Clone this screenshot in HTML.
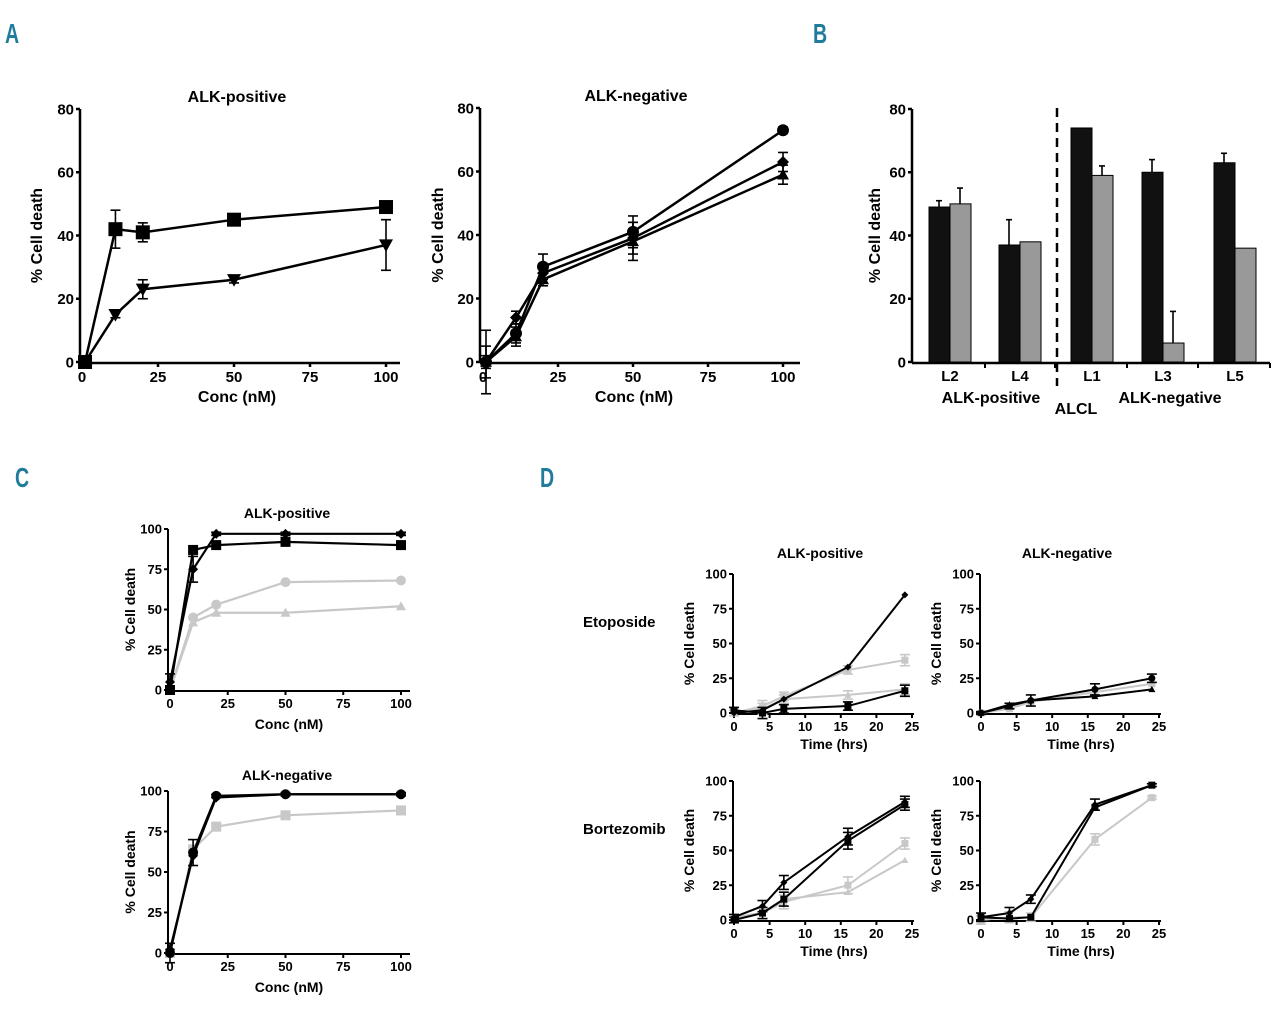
<!DOCTYPE html>
<html><head><meta charset="utf-8">
<style>
html,body{margin:0;padding:0;background:#fff;}
svg{display:block;font-family:"Liberation Sans",sans-serif;font-weight:bold;}
</style></head>
<body>
<svg id="fig" width="1280" height="1012" viewBox="0 0 1280 1012" xmlns="http://www.w3.org/2000/svg">
<g fill="#1f7c9c" font-size="28">
<text transform="translate(5,43) scale(0.7,1)">A</text>
<text transform="translate(813,43) scale(0.7,1)">B</text>
<text transform="translate(15,487) scale(0.7,1)">C</text>
<text transform="translate(540,487) scale(0.7,1)">D</text>
</g>
<g font-size="15">
<text x="583" y="627">Etoposide</text>
<text x="583" y="834">Bortezomib</text>
</g>
</svg>
<script>
// ---------- DATA ----------
const concX = [1, 11, 20, 50, 100];
const a1Square = [0, 42, 41, 45, 49];
const a1SquareErr = [0, 6, 3, 1, 1];
const a1Tri = [0, 15, 23, 26, 37];
const a1TriErr = [0, 1, 3, 1, 8];
const a2Circle = [0, 9, 30, 41, 73];
const a2CircleErr = [10, 3, 4, 5, 1];
const a2Diamond = [0, 14, 28, 39, 63];
const a2DiamondErr = [5, 2, 3, 5, 3];
const a2Tri = [0, 8, 26, 38, 59];
const a2TriErr = [2, 3, 2, 6, 3];
const concTicks = [0, 25, 50, 75, 100];
const pctTicks80 = [0, 20, 40, 60, 80];
const pctTicks100 = [0, 25, 50, 75, 100];

const bCategories = ['L2', 'L4', 'L1', 'L3', 'L5'];
const bBlack = [49, 37, 74, 60, 63];
const bBlackErr = [2, 8, 0, 4, 3];
const bGray = [50, 38, 59, 6, 36];
const bGrayErr = [5, 0, 3, 10, 0];

const cX = [0, 10, 20, 50, 100];
const c1Diamond = [5, 75, 97, 97, 97];
const c1Square = [0, 87, 90, 92, 90];
const c1GrayCircle = [0, 45, 53, 67, 68];
const c1GrayTri = [0, 42, 48, 48, 52];
const c1Err = [5, 8, 1, 1, 1];
const c2Black1 = [0, 62, 97, 98, 98];
const c2Black2 = [2, 60, 96, 98, 98];
const c2Gray = [0, 64, 78, 85, 88];
const c2Err = [6, 8, 1, 1, 1];

const tX = [0, 4, 7, 16, 24];
const timeTicks = [0, 5, 10, 15, 20, 25];
const d1Black1 = [0, 2, 10, 33, 85];
const d1Gray1 = [0, 5, 12, 31, 38];
const d1Gray2 = [0, 3, 10, 13, 17];
const d1Black2 = [2, 0, 3, 5, 16];
const d1Err = [2, 4, 3, 3, 4];
const d2Black1 = [0, 5, 9, 17, 25];
const d2Black2 = [0, 6, 9, 12, 17];
const d2Gray = [0, 3, 8, 15, 21];
const d2Err = [1, 2, 4, 4, 3];
const d3Black1 = [2, 10, 27, 60, 85];
const d3Black2 = [0, 5, 15, 57, 83];
const d3Gray1 = [2, 5, 13, 25, 55];
const d3Gray2 = [2, 5, 15, 20, 43];
const d3Err = [2, 4, 5, 6, 4];
const d4Black1 = [2, 5, 15, 83, 97];
const d4Black2 = [2, 1, 2, 81, 97];
const d4Gray = [0, 2, 2, 58, 88];
const d4Err = [3, 4, 3, 4, 1];

// ---------- DRAWING ----------
const NS = 'http://www.w3.org/2000/svg';
const svg = document.getElementById('fig');
function mk(tag, attrs, parent) {
  const e = document.createElementNS(NS, tag);
  for (const k in attrs) e.setAttribute(k, attrs[k]);
  (parent || svg).appendChild(e);
  return e;
}
function axes(g, c) {
  const ax = mk('g', {}, g);
  
  
  mk('line', {x1: c.axX, y1: c.ya(c.yTicks[c.yTicks.length - 1]), x2: c.axX, y2: c.y0 + 1, stroke: '#000', 'stroke-width': c.sw}, ax);
  mk('line', {x1: c.axX, y1: c.y0 + 1, x2: c.xEnd, y2: c.y0 + 1, stroke: '#000', 'stroke-width': c.sw}, ax);
  c.yTicks.forEach(v => {
    const y = c.ya(v);
    mk('line', {x1: c.axX - 4, y1: y, x2: c.axX, y2: y, stroke: '#000', 'stroke-width': c.sw}, ax);
    const t = mk('text', {x: c.axX - 6, y: y + c.fs * 0.35, 'text-anchor': 'end', 'font-size': c.fs}, ax);
    t.textContent = v;
    
    
  });
  if (c.xTicks) c.xTicks.forEach(v => {
    const x = c.xa(v);
    mk('line', {x1: x, y1: c.y0 + 1, x2: x, y2: c.y0 + 5, stroke: '#000', 'stroke-width': c.sw}, ax);
    const t = mk('text', {x: x, y: c.y0 + 5 + c.fs, 'text-anchor': 'middle', 'font-size': c.fs}, ax);
    t.textContent = v;
    
    
  });
  const yl = mk('text', {x: 0, y: 0, 'text-anchor': 'middle', 'font-size': c.lfs, transform: 'translate(' + c.ylX + ',' + ((c.y0 + c.ya(c.yTicks[c.yTicks.length - 1])) / 2) + ') rotate(-90)'}, ax);
  yl.textContent = '% Cell death';
  
  
  if (c.xlabel) {
    const xl = mk('text', {x: c.xlX, y: c.xlY, 'text-anchor': 'middle', 'font-size': c.lfs}, ax);
    xl.textContent = c.xlabel;
    
    
  }
  if (c.title) {
    const tt = mk('text', {x: c.tX, y: c.tY, 'text-anchor': 'middle', 'font-size': c.lfs}, ax);
    tt.textContent = c.title;
    
    
  }
}
function marker(g, type, x, y, s, col) {
  if (type === 'square') return mk('rect', {x: x - s, y: y - s, width: 2 * s, height: 2 * s, fill: col}, g);
  if (type === 'circle') return mk('circle', {cx: x, cy: y, r: s, fill: col}, g);
  if (type === 'tri') return mk('polygon', {points: (x - s) + ',' + (y - s * 0.8) + ' ' + (x + s) + ',' + (y - s * 0.8) + ' ' + x + ',' + (y + s), fill: col}, g);
  if (type === 'triup') return mk('polygon', {points: (x - s) + ',' + (y + s * 0.8) + ' ' + (x + s) + ',' + (y + s * 0.8) + ' ' + x + ',' + (y - s), fill: col}, g);
  if (type === 'diamond') return mk('polygon', {points: x + ',' + (y - s) + ' ' + (x + s) + ',' + y + ' ' + x + ',' + (y + s) + ' ' + (x - s) + ',' + y, fill: col}, g);
}
function series(g, c, name, xs, ys, errs, type, col, s) {
  const sg = mk('g', {}, g);
  
  
  const pts = xs.map((x, i) => c.xa(x) + ',' + c.ya(ys[i])).join(' ');
  mk('polyline', {points: pts, fill: 'none', stroke: col, 'stroke-width': c.lw}, sg);
  xs.forEach((x, i) => {
    const px = c.xa(x), py = c.ya(ys[i]);
    if (errs && errs[i] > 0) {
      const e1 = c.ya(ys[i] + errs[i]), e2 = c.ya(ys[i] - errs[i]);
      mk('line', {x1: px, y1: e1, x2: px, y2: e2, stroke: col, 'stroke-width': 1.6}, sg);
      mk('line', {x1: px - 5, y1: e1, x2: px + 5, y2: e1, stroke: col, 'stroke-width': 1.6}, sg);
      mk('line', {x1: px - 5, y1: e2, x2: px + 5, y2: e2, stroke: col, 'stroke-width': 1.6}, sg);
    }
    const m = marker(sg, type, px, py, s, col);
    
    
  });
}
function cfg(o) {
  o.xa = v => o.x0 + (v - o.xmin) / (o.xmax - o.xmin) * (o.x1 - o.x0);
  o.ya = v => o.y0 - v / o.ymax * (o.y0 - o.ytop);
  return o;
}
function panel(name) {
  const g = mk('g', {});
  
  
  return g;
}

// Panel A1
let c = cfg({x0: 82, x1: 386, xmin: 0, xmax: 100, y0: 362, ytop: 109, ymax: 80, axX: 80, xEnd: 400, sw: 2.5, lw: 2.5, fs: 15, lfs: 16,
  yTicks: pctTicks80, xTicks: concTicks, ylX: 42, xlabel: 'Conc (nM)', xlX: 237, xlY: 402, title: 'ALK-positive', tX: 237, tY: 102});
let g = panel('chart-a-alk-positive');
axes(g, c);
series(g, c, 'series-square', concX, a1Square, a1SquareErr, 'square', '#000', 7);
series(g, c, 'series-triangle', concX, a1Tri, a1TriErr, 'tri', '#000', 7);

// Panel A2
c = cfg({x0: 483, x1: 783, xmin: 0, xmax: 100, y0: 362, ytop: 108, ymax: 80, axX: 480, xEnd: 800, sw: 2.5, lw: 2.5, fs: 15, lfs: 16,
  yTicks: pctTicks80, xTicks: concTicks, ylX: 443, xlabel: 'Conc (nM)', xlX: 634, xlY: 402, title: 'ALK-negative', tX: 636, tY: 101});
g = panel('chart-a-alk-negative');
axes(g, c);
series(g, c, 'series-circle', concX, a2Circle, a2CircleErr, 'circle', '#000', 6);
series(g, c, 'series-diamond', concX, a2Diamond, a2DiamondErr, 'diamond', '#000', 6);
series(g, c, 'series-triangle', concX, a2Tri, a2TriErr, 'triup', '#000', 6);

// Panel B bars
c = cfg({x0: 912, x1: 1270, xmin: 0, xmax: 1, y0: 362, ytop: 109, ymax: 80, axX: 912, xEnd: 1270, sw: 2.5, lw: 2, fs: 15, lfs: 16,
  yTicks: pctTicks80, ylX: 880});
g = panel('chart-b-bars');
axes(g, c);
const bCenters = [950, 1020, 1092, 1163, 1235];
bCategories.forEach((cat, i) => {
  const cx = bCenters[i];
  [[bBlack, bBlackErr, '#111', -1, 'bar-black-'], [bGray, bGrayErr, '#999', 0, 'bar-gray-']].forEach(s => {
    const v = s[0][i], x = cx + s[3] * 21, y = c.ya(v);
    if (s[1][i] > 0) {
      mk('line', {x1: x + 10, y1: c.ya(v + s[1][i]), x2: x + 10, y2: y, stroke: '#000', 'stroke-width': 1.6}, g);
      mk('line', {x1: x + 7, y1: c.ya(v + s[1][i]), x2: x + 13, y2: c.ya(v + s[1][i]), stroke: '#000', 'stroke-width': 1.6}, g);
    }
    const r = mk('rect', {x: x, y: y, width: 21, height: c.y0 - y, fill: s[2], stroke: '#000', 'stroke-width': 1}, g);
    
    
  });
  mk('line', {x1: cx + 35, y1: 363, x2: cx + 35, y2: 368, stroke: '#000', 'stroke-width': 2}, g);
  const t = mk('text', {x: cx, y: 381, 'text-anchor': 'middle', 'font-size': 15}, g);
  t.textContent = cat;
  
  
});
const dl = mk('line', {x1: 1057, y1: 108, x2: 1057, y2: 386, stroke: '#000', 'stroke-width': 2.5, 'stroke-dasharray': '9,6'}, g);


[['ALK-positive', 991, 403], ['ALCL', 1076, 414], ['ALK-negative', 1170, 403]].forEach(a => {
  const t = mk('text', {x: a[1], y: a[2], 'text-anchor': 'middle', 'font-size': 16}, g);
  t.textContent = a[0];
  
  
});

// Panel C1
c = cfg({x0: 170, x1: 401, xmin: 0, xmax: 100, y0: 690, ytop: 529, ymax: 100, axX: 168, xEnd: 410, sw: 2, lw: 2.2, fs: 13, lfs: 14,
  yTicks: pctTicks100, xTicks: concTicks, ylX: 135, xlabel: 'Conc (nM)', xlX: 289, xlY: 729, title: 'ALK-positive', tX: 287, tY: 518});
g = panel('chart-c-alk-positive');
axes(g, c);
series(g, c, 'series-gray-triangle', cX, c1GrayTri, null, 'triup', '#c8c8c8', 5);
series(g, c, 'series-gray-circle', cX, c1GrayCircle, null, 'circle', '#c8c8c8', 5);
series(g, c, 'series-square', cX, c1Square, null, 'square', '#000', 5);
series(g, c, 'series-diamond', cX, c1Diamond, c1Err, 'diamond', '#000', 5);

// Panel C2
c = cfg({x0: 170, x1: 401, xmin: 0, xmax: 100, y0: 953, ytop: 791, ymax: 100, axX: 168, xEnd: 410, sw: 2, lw: 2.2, fs: 13, lfs: 14,
  yTicks: pctTicks100, xTicks: concTicks, ylX: 135, xlabel: 'Conc (nM)', xlX: 289, xlY: 992, title: 'ALK-negative', tX: 287, tY: 780});
g = panel('chart-c-alk-negative');
axes(g, c);
series(g, c, 'series-gray', cX, c2Gray, null, 'square', '#c8c8c8', 5);
series(g, c, 'series-black-1', cX, c2Black1, c2Err, 'circle', '#000', 5);
series(g, c, 'series-black-2', cX, c2Black2, null, 'diamond', '#000', 5);

// Panels D
function dPanel(name, x0, y0, title, sets) {
  const cc = cfg({x0: x0, x1: x0 + 178, xmin: 0, xmax: 25, y0: y0, ytop: y0 - 139, ymax: 100, axX: x0 - 1, xEnd: x0 + 180, sw: 2, lw: 2, fs: 13, lfs: 14,
    yTicks: pctTicks100, xTicks: timeTicks, ylX: x0 - 40, xlabel: 'Time (hrs)', xlX: x0 + 100, xlY: y0 + 36, title: title, tX: x0 + 86, tY: y0 - 155});
  const gg = panel(name);
  axes(gg, cc);
  sets.forEach(s => series(gg, cc, s[0], tX, s[1], s[2], s[3], s[4], 3.5));
}
dPanel('chart-d-etoposide-alk-positive', 734, 713, 'ALK-positive', [
  ['series-gray-1', d1Gray1, d1Err, 'square', '#c8c8c8'],
  ['series-gray-2', d1Gray2, d1Err, 'triup', '#c8c8c8'],
  ['series-black-1', d1Black1, null, 'diamond', '#000'],
  ['series-black-2', d1Black2, d1Err, 'square', '#000']]);
dPanel('chart-d-etoposide-alk-negative', 981, 713, 'ALK-negative', [
  ['series-gray', d2Gray, null, 'square', '#c8c8c8'],
  ['series-black-1', d2Black1, d2Err, 'circle', '#000'],
  ['series-black-2', d2Black2, null, 'triup', '#000']]);
dPanel('chart-d-bortezomib-alk-positive', 734, 920, null, [
  ['series-gray-1', d3Gray1, d3Err, 'square', '#c8c8c8'],
  ['series-gray-2', d3Gray2, null, 'triup', '#c8c8c8'],
  ['series-black-1', d3Black1, d3Err, 'diamond', '#000'],
  ['series-black-2', d3Black2, d3Err, 'square', '#000']]);
dPanel('chart-d-bortezomib-alk-negative', 981, 920, null, [
  ['series-gray', d4Gray, d4Err, 'square', '#c8c8c8'],
  ['series-black-1', d4Black1, d4Err, 'diamond', '#000'],
  ['series-black-2', d4Black2, null, 'square', '#000']]);
</script>
</body></html>
